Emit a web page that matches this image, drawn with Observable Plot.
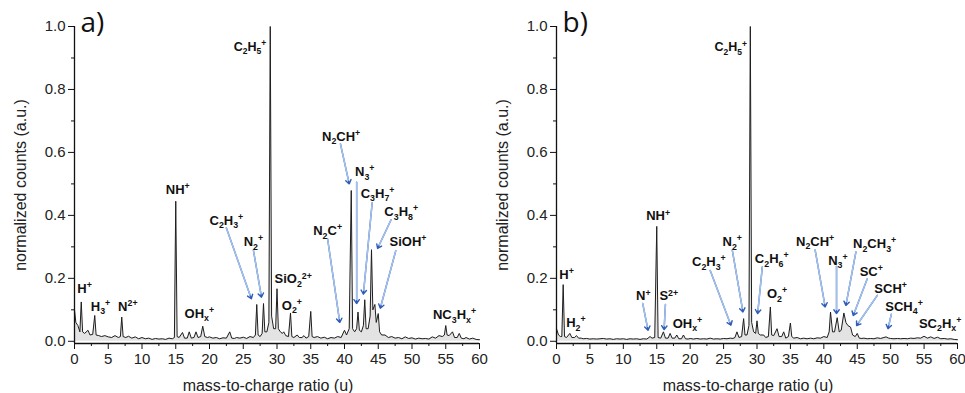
<!DOCTYPE html>
<html>
<head>
<meta charset="utf-8">
<script src="https://cdn.jsdelivr.net/npm/d3@7"></script>
<script src="https://cdn.jsdelivr.net/npm/@observablehq/plot@0.6"></script>
<style>
  body { margin: 0; background: #fff; }
  #wrap { display: flex; width: 965px; height: 393px; overflow: hidden; }
  svg { overflow: visible; }
</style>
</head>
<body>
<div id="wrap"></div>
<script>
// ---- spectrum a: [m/z, normalized counts]
const spectrumA = [
  [0,0.10],[0.2,0.06],[0.5,0.05],[0.8,0.03],[1.0,0.125],[1.2,0.03],[1.5,0.025],[2.0,0.035],[2.3,0.02],[2.7,0.022],
  [3.0,0.082],[3.2,0.02],[3.6,0.018],[4.0,0.015],[4.5,0.018],[5.0,0.014],[5.5,0.012],[6.0,0.018],[6.5,0.012],[6.8,0.015],
  [7.0,0.077],[7.2,0.015],[7.6,0.012],[8.0,0.016],[8.5,0.01],[9.0,0.014],[9.5,0.008],[10.0,0.012],[10.5,0.008],[11.0,0.01],
  [11.5,0.006],[12.0,0.009],[12.5,0.007],[13.0,0.008],[13.5,0.006],[14.0,0.01],[14.5,0.008],[14.8,0.012],[15.0,0.445],[15.2,0.015],
  [15.5,0.012],[16.0,0.028],[16.3,0.01],[16.7,0.01],[17.0,0.03],[17.3,0.01],[17.7,0.012],[18.0,0.03],[18.3,0.012],[18.7,0.015],
  [19.0,0.048],[19.3,0.015],[19.7,0.012],[20.0,0.014],[20.5,0.01],[21.0,0.012],[21.5,0.008],[22.0,0.011],[22.5,0.01],[23.0,0.03],
  [23.3,0.01],[23.7,0.009],[24.0,0.012],[24.5,0.01],[25.0,0.013],[25.5,0.009],[26.0,0.015],[26.5,0.012],[26.8,0.02],[27.0,0.117],
  [27.2,0.02],[27.5,0.015],[27.8,0.025],[28.0,0.12],[28.2,0.03],[28.5,0.03],[28.8,0.06],[29.0,1.0],[29.2,0.08],[29.5,0.04],
  [29.8,0.04],[30.0,0.167],[30.2,0.04],[30.5,0.03],[30.8,0.025],[31.0,0.03],[31.3,0.018],[31.7,0.015],[32.0,0.09],[32.2,0.015],
  [32.5,0.012],[33.0,0.02],[33.3,0.012],[33.7,0.012],[34.0,0.018],[34.3,0.01],[34.7,0.015],[35.0,0.095],[35.2,0.015],[35.5,0.012],
  [36.0,0.015],[36.5,0.01],[37.0,0.013],[37.5,0.008],[38.0,0.012],[38.5,0.01],[39.0,0.015],[39.5,0.012],[40.0,0.035],[40.3,0.02],
  [40.7,0.04],[41.0,0.479],[41.2,0.04],[41.5,0.03],[41.8,0.04],[42.0,0.093],[42.2,0.035],[42.5,0.03],[42.8,0.05],[43.0,0.132],
  [43.2,0.04],[43.5,0.04],[43.8,0.08],[44.0,0.291],[44.2,0.1],[44.5,0.117],[44.7,0.06],[45.0,0.088],[45.2,0.03],[45.5,0.02],
  [46.0,0.02],[46.5,0.012],[47.0,0.015],[47.5,0.01],[48.0,0.012],[48.5,0.008],[49.0,0.014],[49.5,0.009],[50.0,0.011],[50.5,0.007],
  [51.0,0.01],[51.5,0.008],[52.0,0.009],[52.5,0.007],[53.0,0.014],[53.5,0.01],[54.0,0.018],[54.5,0.015],[54.8,0.02],[55.0,0.05],
  [55.2,0.02],[55.5,0.018],[56.0,0.03],[56.3,0.012],[56.7,0.012],[57.0,0.025],[57.3,0.01],[57.7,0.008],[58.0,0.012],[58.5,0.007],
  [59.0,0.01],[59.5,0.006],[60.0,0.005]
];
// ---- spectrum b
const spectrumB = [
  [0,0.04],[0.3,0.02],[0.6,0.015],[0.8,0.015],[1.0,0.18],[1.2,0.015],[1.5,0.012],[2.0,0.025],[2.3,0.012],[2.7,0.012],
  [3.0,0.018],[3.3,0.01],[3.7,0.01],[4.0,0.008],[4.5,0.009],[5.0,0.007],[5.5,0.008],[6.0,0.007],[6.5,0.008],[7.0,0.009],
  [7.5,0.007],[8.0,0.008],[8.5,0.006],[9.0,0.008],[9.5,0.007],[10.0,0.008],[10.5,0.006],[11.0,0.008],[11.5,0.007],[12.0,0.008],
  [12.5,0.006],[13.0,0.008],[13.5,0.007],[13.7,0.01],[14.0,0.015],[14.3,0.01],[14.7,0.012],[15.0,0.365],[15.2,0.012],[15.6,0.01],
  [16.0,0.03],[16.3,0.01],[16.7,0.01],[17.0,0.025],[17.3,0.01],[17.7,0.01],[18.0,0.02],[18.3,0.008],[18.7,0.008],[19.0,0.02],
  [19.3,0.008],[19.7,0.007],[20.0,0.009],[20.5,0.007],[21.0,0.009],[21.5,0.007],[22.0,0.008],[22.5,0.007],[23.0,0.01],[23.5,0.007],
  [24.0,0.008],[24.5,0.007],[25.0,0.009],[25.5,0.008],[26.0,0.01],[26.4,0.009],[26.7,0.012],[27.0,0.03],[27.3,0.012],[27.7,0.015],
  [28.0,0.072],[28.2,0.02],[28.5,0.02],[28.8,0.05],[29.0,1.0],[29.2,0.06],[29.5,0.03],[29.8,0.025],[30.0,0.065],[30.2,0.025],
  [30.5,0.02],[31.0,0.02],[31.3,0.012],[31.7,0.015],[32.0,0.109],[32.2,0.02],[32.5,0.018],[33.0,0.04],[33.3,0.015],[33.7,0.015],
  [34.0,0.03],[34.3,0.01],[34.7,0.015],[35.0,0.058],[35.2,0.015],[35.5,0.01],[36.0,0.012],[36.5,0.008],[37.0,0.01],[37.5,0.008],
  [38.0,0.01],[38.5,0.008],[39.0,0.011],[39.5,0.01],[40.0,0.015],[40.5,0.012],[40.8,0.03],[41.0,0.093],[41.3,0.03],[41.6,0.03],
  [42.0,0.075],[42.3,0.03],[42.6,0.035],[43.0,0.09],[43.3,0.06],[43.6,0.05],[44.0,0.045],[44.3,0.02],[44.7,0.015],[45.0,0.025],
  [45.3,0.01],[45.7,0.009],[46.0,0.01],[46.5,0.008],[47.0,0.009],[47.5,0.008],[48.0,0.011],[48.5,0.009],[49.0,0.012],[49.3,0.014],
  [49.7,0.01],[50.0,0.009],[50.5,0.008],[51.0,0.009],[51.5,0.008],[52.0,0.009],[52.5,0.008],[53.0,0.01],[53.5,0.009],[54.0,0.011],
  [54.5,0.01],[55.0,0.016],[55.5,0.01],[56.0,0.014],[56.5,0.009],[57.0,0.013],[57.5,0.008],[58.0,0.009],[58.5,0.007],[59.0,0.008],
  [59.5,0.006],[60.0,0.005]
];

// ---- peak labels: [text, x, y]
const labelsA = [
  ["H⁺",1.5,0.167],["H₃⁺",3.85,0.11],["N²⁺",7.9,0.11],["NH⁺",15.3,0.48],["OHₓ⁺",18.5,0.088],
  ["C₂H₃⁺",22.5,0.384],["N₂⁺",26.5,0.315],["SiO₂²⁺",32.4,0.197],["O₂⁺",32.2,0.114],
  ["N₂C⁺",37.5,0.35],["N₂CH⁺",39.5,0.65],["N₃⁺",43.0,0.537],["C₃H₇⁺",44.9,0.47],
  ["C₃H₈⁺",48.4,0.41],["SiOH⁺",49.4,0.315],["NC₃Hₓ⁺",56.3,0.083]
];
const labelsB = [
  ["H⁺",1.5,0.212],["H₂⁺",2.9,0.058],["N⁺",13.0,0.143],["S²⁺",16.8,0.143],["NH⁺",15.2,0.397],
  ["OHₓ⁺",19.6,0.056],["C₂H₃⁺",22.8,0.252],["N₂⁺",26.3,0.315],["C₂H₆⁺",32.2,0.262],["O₂⁺",33.0,0.151],
  ["N₂CH⁺",38.7,0.317],["N₃⁺",42.1,0.257],["N₂CH₃⁺",47.6,0.31],["SC⁺",47.1,0.22],["SCH⁺",50.0,0.167],
  ["SCH₄⁺",52.0,0.11],["SC₂Hₓ⁺",57.4,0.056]
];
// main peak label (right-aligned next to the peak): [text, x, y]
const topLabelA = [["C₂H₅⁺",28.4,0.935]];
const topLabelB = [["C₂H₅⁺",28.5,0.934]];

// ---- annotation arrows: [x1, y1, x2, y2]
const arrowsA = [
  [22.5,0.36,26.2,0.135],[26.5,0.29,27.7,0.14],[37.5,0.325,39.3,0.06],
  [39.4,0.627,40.7,0.50],[41.8,0.505,41.8,0.12],[44.1,0.44,42.8,0.15],
  [46.9,0.386,44.9,0.295],[47.6,0.288,45.3,0.105]
];
const arrowsB = [
  [12.9,0.12,13.7,0.035],[16.3,0.117,16.1,0.037],[23.0,0.225,26.1,0.051],[26.3,0.29,27.9,0.093],
  [30.8,0.237,30.1,0.088],[38.7,0.29,40.2,0.109],[41.9,0.238,41.9,0.088],[44.8,0.284,43.3,0.114],
  [46.5,0.199,44.4,0.082],[48.0,0.146,44.9,0.05],[50.1,0.086,49.6,0.04]
];

const panelLetters = ["a)", "b)"];
const xTicksMajor = [0,5,10,15,20,25,30,35,40,45,50,55,60];
const xTicksMinor = [2.5,7.5,12.5,17.5,22.5,27.5,32.5,37.5,42.5,47.5,52.5,57.5];
const yTicksMajor = [0,0.2,0.4,0.6,0.8,1.0];
const yTicksMinor = [0.1,0.3,0.5,0.7,0.9];
const xLabel = "mass-to-charge ratio (u)";
const yLabel = "normalized counts (a.u.)";

const FONT = "Liberation Sans, Arial, Helvetica, sans-serif";

function panel(spec, labels, topLabel, arrows, letter, width, plotWidth) {
  const data = spec.map(([m, c]) => ({m, c}));
  const lab = labels.map(([t, x, y]) => ({t, x, y}));
  const top = topLabel.map(([t, x, y]) => ({t, x, y}));
  const arr = arrows.map(([x1, y1, x2, y2]) => ({x1, y1, x2, y2}));
  const yMin = -0.007;
  return Plot.plot({
    width, height: 393,
    marginLeft: 74, marginRight: width - 74 - plotWidth, marginTop: 26, marginBottom: 50,
    style: {fontFamily: FONT, background: "transparent", overflow: "visible"},
    x: {domain: [0, 60]},
    y: {domain: [yMin, 1.0]},
    marks: [
      Plot.areaY(data, {x: "m", y: "c", fill: "#dcdcdc", fillOpacity: 0.8, curve: "linear"}),
      Plot.lineY(data, {x: "m", y: "c", stroke: "#1e1e1e", strokeWidth: 1, curve: "linear"}),
      Plot.ruleX([0], {stroke: "#111", strokeWidth: 1.3}),
      Plot.ruleY([yMin], {stroke: "#111", strokeWidth: 1.3}),
      Plot.axisX({ticks: xTicksMajor, tickSize: 6, tickPadding: 4, tickFormat: d3.format("d"),
        fontSize: 15, color: "#222", stroke: "#111", label: null}),
      Plot.axisX({ticks: xTicksMinor, tickSize: 3, tickFormat: () => "", label: null, stroke: "#111"}),
      Plot.axisY({ticks: yTicksMajor, tickSize: 6, tickPadding: 3, tickFormat: d3.format(".1f"),
        fontSize: 15, color: "#222", stroke: "#111", label: null}),
      Plot.axisY({ticks: yTicksMinor, tickSize: 3, tickFormat: () => "", label: null, stroke: "#111"}),
      Plot.text([xLabel], {frameAnchor: "bottom", dx: -9, dy: 42, fontSize: 16, fill: "#222",
        textAnchor: "middle", lineAnchor: "middle"}),
      Plot.text([yLabel], {frameAnchor: "left", dx: -54, rotate: -90, fontSize: 16, fill: "#222",
        textAnchor: "middle", lineAnchor: "middle"}),
      Plot.text([letter], {frameAnchor: "top-left", dx: 6, dy: -14, fontSize: 28, textAnchor: "start",
        lineAnchor: "top", fill: "#111", fontFamily: "Open Sans, DejaVu Sans, sans-serif"}),
      Plot.arrow(arr, {x1: "x1", y1: "y1", x2: "x2", y2: "y2", stroke: "#2e5cb8", strokeWidth: 1.4,
        headLength: 5, headAngle: 70}),
      Plot.arrow(arr, {x1: "x1", y1: "y1", x2: "x2", y2: "y2", stroke: "#a3c1ea", strokeWidth: 1.5,
        headLength: 0, insetEnd: 4}),
      Plot.text(lab, {x: "x", y: "y", text: "t", fontSize: 13, fontWeight: "bold", fill: "#111",
        textAnchor: "middle", lineAnchor: "middle", className: "chem"}),
      Plot.text(top, {x: "x", y: "y", text: "t", fontSize: 12.5, fontWeight: "bold", fill: "#111",
        textAnchor: "end", lineAnchor: "middle", className: "chem"})
    ]
  });
}

// turn unicode sub/superscripts into shifted tspans (display only)
const SUB = {"₀":"0","₁":"1","₂":"2","₃":"3","₄":"4","₅":"5","₆":"6","₇":"7","₈":"8","₉":"9","ₓ":"x"};
const SUP = {"⁺":"+","²":"2"};
function richify(svg) {
  svg.querySelectorAll("text").forEach(t => {
    const s = t.textContent;
    if (![...s].some(ch => SUB[ch] || SUP[ch])) return;
    const fs = parseFloat(getComputedStyle(t).fontSize) || 13;
    const segs = [];
    for (const ch of s) {
      const kind = SUB[ch] ? "sub" : SUP[ch] ? "sup" : "n";
      const c = SUB[ch] || SUP[ch] || ch;
      if (segs.length && segs[segs.length - 1].kind === kind) segs[segs.length - 1].s += c;
      else segs.push({kind, s: c});
    }
    while (t.firstChild) t.removeChild(t.firstChild);
    let cur = 0;
    for (const sg of segs) {
      const ts = document.createElementNS("http://www.w3.org/2000/svg", "tspan");
      const target = sg.kind === "sub" ? 0.28 * fs : sg.kind === "sup" ? -0.38 * fs : 0;
      ts.setAttribute("dy", (target - cur).toFixed(2));
      cur = target;
      if (sg.kind !== "n") ts.setAttribute("font-size", (0.68 * fs).toFixed(1));
      ts.textContent = sg.s;
      t.appendChild(ts);
    }
  });
}

const wrap = document.getElementById("wrap");
const pa = panel(spectrumA, labelsA, topLabelA, arrowsA, panelLetters[0], 482, 405);
const pb = panel(spectrumB, labelsB, topLabelB, arrowsB, panelLetters[1], 483, 401);
wrap.append(pa, pb);
richify(pa); richify(pb);
</script>
</body>
</html>
